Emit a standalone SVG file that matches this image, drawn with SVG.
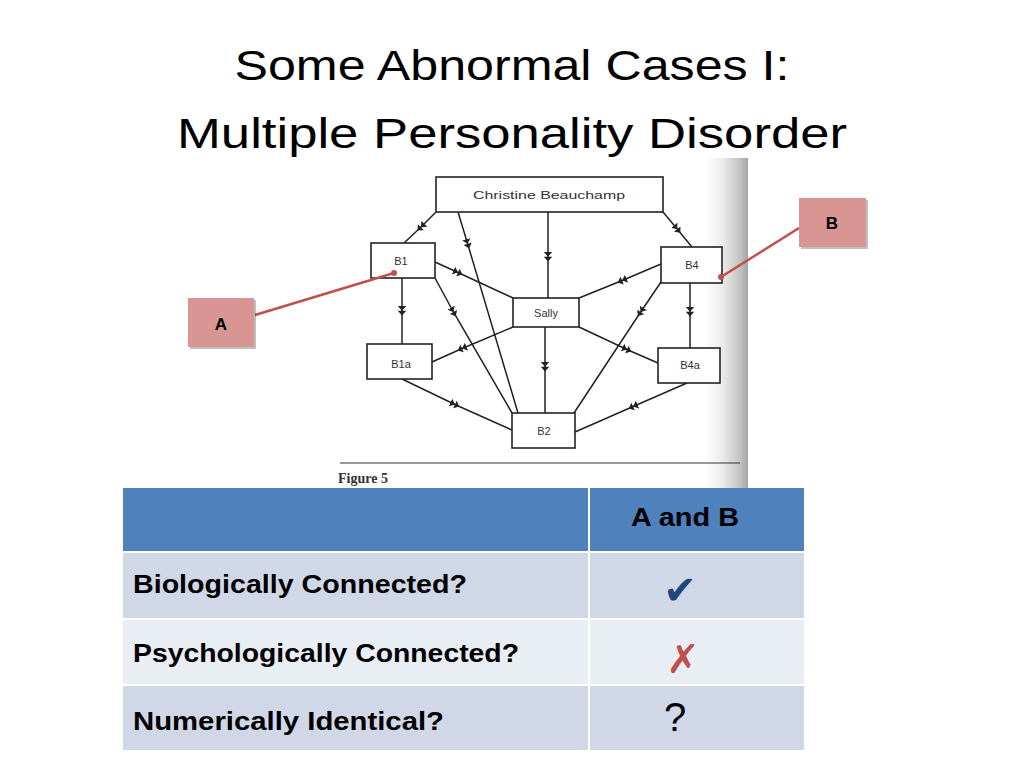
<svg xmlns="http://www.w3.org/2000/svg" width="1024" height="768" viewBox="0 0 1024 768">
<defs>
<style>
.title{font-family:"Liberation Sans",Arial,sans-serif;font-size:43px;fill:#000;text-anchor:middle}
.node rect{fill:#fff;stroke:#222;stroke-width:1.6}
.node text{font-family:"Liberation Sans",Arial,sans-serif;font-size:11px;fill:#333;text-anchor:middle}
.conn{fill:none;stroke:#222;stroke-width:1.5;marker-mid:url(#dbl)}
.cell{font-family:"Liberation Sans",Arial,sans-serif;font-weight:bold;font-size:25px;fill:#000}
.callout rect.box{fill:#D99594}
.callout rect.sh{fill:#000;opacity:0.25}
.callout text{font-family:"Liberation Sans",Arial,sans-serif;font-weight:bold;font-size:17px;fill:#000;text-anchor:middle}
.callout line{stroke:#C0504D;stroke-width:2.5}
.callout circle{fill:#C0504D}
</style>
<marker id="dbl" markerUnits="userSpaceOnUse" markerWidth="12" markerHeight="10" viewBox="0 -4 10 8" refX="5" refY="0" orient="auto">
<path d="M0,-3.5 L4,0 L0,3.5 Z M4,-3.5 L8,0 L4,3.5 Z" fill="#222"/>
</marker>
<linearGradient id="edge" x1="0" y1="0" x2="1" y2="0">
<stop offset="0" stop-color="#fff"/>
<stop offset="0.4" stop-color="#ececec"/>
<stop offset="0.8" stop-color="#c4c4c4"/>
<stop offset="1" stop-color="#a4a4a4"/>
</linearGradient>
</defs>
<rect x="0" y="0" width="1024" height="768" fill="#fff"/>

<g id="title">
<text class="title" x="512" y="80" textLength="555" lengthAdjust="spacingAndGlyphs">Some Abnormal Cases I:</text>
<text class="title" x="512" y="148" textLength="670" lengthAdjust="spacingAndGlyphs">Multiple Personality Disorder</text>
</g>

<g id="figure-bg">
<rect x="333" y="160" width="415" height="328" fill="#fff"/>
<rect x="705" y="158" width="43" height="330" fill="url(#edge)"/>
<line x1="340" y1="463" x2="740" y2="463" stroke="#333" stroke-width="1.2"/>
<text x="338" y="483" font-family="Liberation Serif,serif" font-size="14" font-weight="bold" fill="#333">Figure 5</text>
</g>

<g id="connectors">
<polyline class="conn" points="436,212 420,228 404,243"/>
<polyline class="conn" points="458,212 468,245 518,413"/>
<polyline class="conn" points="548,212 548,258 548,298"/>
<polyline class="conn" points="663,212 678,230 692,247"/>
<polyline class="conn" points="435,262 459,273 513,298"/>
<polyline class="conn" points="435,278 454,313 512,413"/>
<polyline class="conn" points="661,264 621,281 579,298"/>
<polyline class="conn" points="661,282 640,313 574,413"/>
<polyline class="conn" points="402,278 402,312 402,344"/>
<polyline class="conn" points="690,283 690,313 690,348"/>
<polyline class="conn" points="513,327 461,349 432,362"/>
<polyline class="conn" points="545,327 545,368 545,413"/>
<polyline class="conn" points="579,327 628,350 658,363"/>
<polyline class="conn" points="402,379 456,405 512,430"/>
<polyline class="conn" points="687,383 632,407 575,432"/>
</g>

<g id="node-christine" class="node">
<rect x="436" y="177" width="227" height="35"/>
<text x="549" y="199" textLength="152" lengthAdjust="spacingAndGlyphs">Christine Beauchamp</text>
</g>
<g id="node-b1" class="node">
<rect x="371" y="243" width="64" height="35"/>
<text x="401" y="265">B1</text>
</g>
<g id="node-b4" class="node">
<rect x="661" y="247" width="61" height="36"/>
<text x="692" y="269">B4</text>
</g>
<g id="node-sally" class="node">
<rect x="513" y="298" width="66" height="29"/>
<text x="546" y="317">Sally</text>
</g>
<g id="node-b1a" class="node">
<rect x="367" y="344" width="65" height="35"/>
<text x="401" y="368">B1a</text>
</g>
<g id="node-b4a" class="node">
<rect x="658" y="348" width="62" height="35"/>
<text x="690" y="369">B4a</text>
</g>
<g id="node-b2" class="node">
<rect x="512" y="413" width="63" height="35"/>
<text x="544" y="435">B2</text>
</g>

<g id="callout-a" class="callout">
<line x1="255" y1="315" x2="394" y2="273"/>
<circle cx="394" cy="273" r="3"/>
<rect class="sh" x="190" y="300" width="66" height="49"/>
<rect class="box" x="188" y="298" width="66" height="49"/>
<text x="221" y="330">A</text>
</g>
<g id="callout-b" class="callout">
<line x1="799" y1="228" x2="721" y2="277"/>
<circle cx="721" cy="277" r="3"/>
<rect class="sh" x="801" y="200" width="67" height="49"/>
<rect class="box" x="799" y="198" width="67" height="49"/>
<text x="832" y="229">B</text>
</g>

<g id="table">
<rect x="123" y="488" width="465" height="63" fill="#4F81BD"/>
<rect x="590" y="488" width="214" height="63" fill="#4F81BD"/>
<rect x="123" y="553" width="465" height="65" fill="#D0D8E8"/>
<rect x="590" y="553" width="214" height="65" fill="#D0D8E8"/>
<rect x="123" y="620" width="465" height="64" fill="#E9EDF4"/>
<rect x="590" y="620" width="214" height="64" fill="#E9EDF4"/>
<rect x="123" y="686" width="465" height="64" fill="#D0D8E8"/>
<rect x="590" y="686" width="214" height="64" fill="#D0D8E8"/>
<text class="cell" x="685" y="526" text-anchor="middle" textLength="108" lengthAdjust="spacingAndGlyphs">A and B</text>
<text class="cell" x="133" y="593" textLength="334" lengthAdjust="spacingAndGlyphs">Biologically Connected?</text>
<text class="cell" x="133" y="662" textLength="386" lengthAdjust="spacingAndGlyphs">Psychologically Connected?</text>
<text class="cell" x="133" y="730" textLength="311" lengthAdjust="spacingAndGlyphs">Numerically Identical?</text>
<text x="680" y="604" font-family="DejaVu Sans,sans-serif" font-size="40" fill="#1F497D" text-anchor="middle">✔</text>
<text x="683" y="673" font-family="DejaVu Sans,sans-serif" font-size="40" fill="#C0504D" text-anchor="middle">✗</text>
<text x="675" y="731" font-family="Liberation Sans,sans-serif" font-size="40" fill="#000" text-anchor="middle">?</text>
</g>
</svg>
